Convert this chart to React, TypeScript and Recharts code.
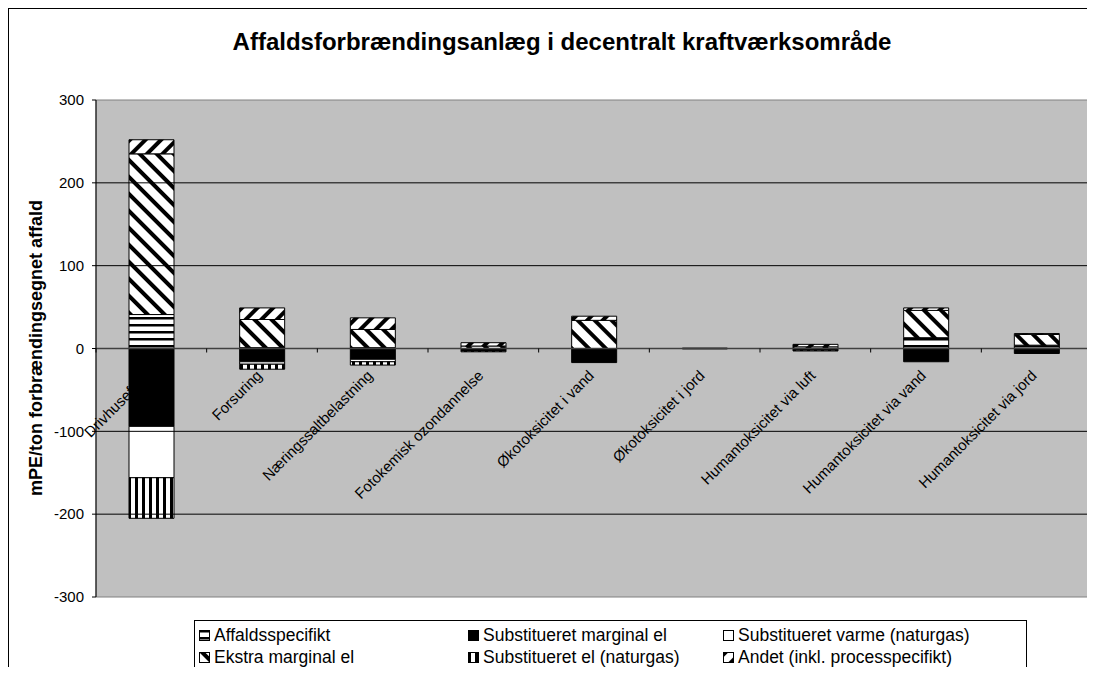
import React from "react";
import {
  BarChart,
  Bar,
  XAxis,
  YAxis,
  CartesianGrid,
  ReferenceLine,
  ReferenceArea,
} from "recharts";

const categories = [
  "Drivhuseffekt",
  "Forsuring",
  "Næringssaltbelastning",
  "Fotokemisk ozondannelse",
  "Økotoksicitet i vand",
  "Økotoksicitet i jord",
  "Humantoksicitet via luft",
  "Humantoksicitet via vand",
  "Humantoksicitet via jord",
];

// series values, mPE/ton
const affaldsspecifikt = [41, 1, 1, 0, 0, 0, 0, 13, 4];
const substMarginalEl = [-94, -16, -13, -3, -17, -0.5, -2, -16, -6];
const substVarme = [-62, -3, -3, 0, 0, 0, 0, 0, 0];
const ekstraMarginalEl = [194, 34, 22, 3, 34, 0.5, 2, 33, 13];
const substElNaturgas = [-49, -6, -4, -1, 0, 0, -1, 0, 0];
const andet = [17, 14, 14, 4, 5, 0, 3, 3, 1];

const yTicks = [-300, -200, -100, 0, 100, 200, 300];

const series = [
  { key: "affald", name: "Affaldsspecifikt", values: affaldsspecifikt, fill: "url(#pAffald)" },
  { key: "substMarginal", name: "Substitueret marginal el", values: substMarginalEl, fill: "#000000" },
  { key: "substVarme", name: "Substitueret varme (naturgas)", values: substVarme, fill: "#FFFFFF" },
  { key: "ekstra", name: "Ekstra marginal el", values: ekstraMarginalEl, fill: "url(#pEkstra)" },
  { key: "substEl", name: "Substitueret el (naturgas)", values: substElNaturgas, fill: "url(#pSubstEl)" },
  { key: "andet", name: "Andet (inkl. processpecifikt)", values: andet, fill: "url(#pAndet)" },
];

const data = categories.map((name, i) => {
  const row: Record<string, string | number> = { name };
  series.forEach((s) => (row[s.key] = s.values[i]));
  return row;
});

const FONT = "'Liberation Sans', Arial, sans-serif";
const W = 1086;
const H = 666;
const M = { top: 91, right: 3, bottom: 0, left: 27 };
const Y_AXIS_W = 60;
const X_AXIS_H = 78;
const plotTop = M.top;
const plotH = H - M.top - M.bottom - X_AXIS_H;
const plotLeft = M.left + Y_AXIS_W;
const plotW = W - plotLeft - M.right;
const band = plotW / categories.length;
const zeroY = plotTop + plotH * (300 / 600);

function CategoryTick(props: any) {
  const { x, payload, index } = props;
  const ax = x + 1;
  const ay = zeroY + 28;
  return (
    <g>
      <line x1={x + band / 2} x2={x + band / 2} y1={zeroY} y2={zeroY + 4} stroke="#000" />
      {index === 0 && <line x1={x - band / 2} x2={x - band / 2} y1={zeroY} y2={zeroY + 4} stroke="#000" />}
      <text
        x={ax}
        y={ay}
        textAnchor="end"
        fontSize={15}
        fontFamily={FONT}
        fill="#000"
        transform={`rotate(-45, ${ax}, ${ay})`}
      >
        {payload.value}
      </text>
    </g>
  );
}

function Patterns() {
  return (
    <svg width={0} height={0} style={{ position: "absolute" }}>
      <defs>
        <pattern id="pAffald" width="7" height="7" patternUnits="userSpaceOnUse">
          <rect width="7" height="7" fill="#fff" />
          <rect y="0" width="7" height="2.5" fill="#000" />
        </pattern>
        <pattern id="pEkstra" width="12" height="12" patternUnits="userSpaceOnUse" patternTransform="rotate(-45)">
          <rect width="12" height="12" fill="#fff" />
          <rect x="0" width="4" height="12" fill="#000" />
        </pattern>
        <pattern id="pAndet" width="11" height="11" patternUnits="userSpaceOnUse" patternTransform="rotate(45)">
          <rect width="11" height="11" fill="#fff" />
          <rect x="0" width="4" height="11" fill="#000" />
        </pattern>
        <pattern id="pSubstEl" width="7" height="7" patternUnits="userSpaceOnUse">
          <rect width="7" height="7" fill="#fff" />
          <rect x="0" width="3" height="7" fill="#000" />
        </pattern>
      </defs>
    </svg>
  );
}

// legend laid out like the Excel original: 3 columns, 2 rows
const legendOrder = ["affald", "substMarginal", "substVarme", "ekstra", "substEl", "andet"];
const legendCols = [189, 458, 713];

export default function App() {
  return (
    <div
      style={{
        position: "relative",
        width: 1087,
        height: 658,
        borderLeft: "1px solid #000",
        borderTop: "1px solid #000",
        background: "#fff",
        fontFamily: FONT,
        overflow: "hidden",
      }}
    >
      <Patterns />
      <div
        style={{
          position: "absolute",
          left: 553,
          top: 19,
          transform: "translateX(-50%)",
          whiteSpace: "nowrap",
          fontSize: 24,
          fontWeight: "bold",
        }}
      >
        Affaldsforbrændingsanlæg i decentralt kraftværksområde
      </div>
      <div
        style={{
          position: "absolute",
          left: 27,
          top: 339,
          transform: "translate(-50%, -50%) rotate(-90deg)",
          whiteSpace: "nowrap",
          fontSize: 18,
          fontWeight: "bold",
        }}
      >
        mPE/ton forbrændingsegnet affald
      </div>
      <BarChart
        width={W}
        height={H}
        data={data}
        margin={M}
        stackOffset="sign"
        barSize={45}
      >
        <CartesianGrid horizontal={false} vertical={false} fill="#C0C0C0" />
        <XAxis
          dataKey="name"
          height={X_AXIS_H}
          axisLine={false}
          tickLine={false}
          interval={0}
          tick={<CategoryTick />}
        />
        <YAxis
          width={Y_AXIS_W}
          domain={[-300, 300]}
          ticks={yTicks}
          interval={0}
          axisLine={{ stroke: "#000" }}
          tickLine={{ stroke: "#000" }}
          tickSize={4}
          tickMargin={8}
          tick={{ fontSize: 15, fill: "#000", fontFamily: FONT }}
        />
        {yTicks
          .filter((t) => t !== 0 && Math.abs(t) !== 300)
          .map((t) => (
            <ReferenceLine key={t} y={t} stroke="#000" ifOverflow="visible" />
          ))}
        <ReferenceArea y1={-300} y2={300} fill="none" stroke="#808080" ifOverflow="visible" />
        <ReferenceLine y={0} stroke="#404040" strokeWidth={1.5} />
        {series.map((s) => (
          <Bar
            key={s.key}
            dataKey={s.key}
            name={s.name}
            stackId="a"
            fill={s.fill}
            stroke="#000"
            strokeWidth={1}
            isAnimationActive={false}
          />
        ))}
      </BarChart>
      <div
        style={{
          position: "absolute",
          left: 185,
          top: 611,
          width: 831,
          height: 70,
          border: "1px solid #000",
          background: "#fff",
        }}
      >
        {legendOrder.map((k, i) => {
          const s = series.find((x) => x.key === k)!;
          const col = i % 3;
          const row = Math.floor(i / 3);
          return (
            <div
              key={k}
              style={{
                position: "absolute",
                left: legendCols[col] - 185,
                top: 4 + row * 22,
                display: "flex",
                alignItems: "center",
                fontSize: 17.5,
                whiteSpace: "nowrap",
              }}
            >
              <svg width={11} height={11} style={{ marginRight: 4 }}>
                <rect x={0.5} y={0.5} width={10} height={10} fill={s.fill} stroke="#000" />
              </svg>
              {s.name}
            </div>
          );
        })}
      </div>
    </div>
  );
}
